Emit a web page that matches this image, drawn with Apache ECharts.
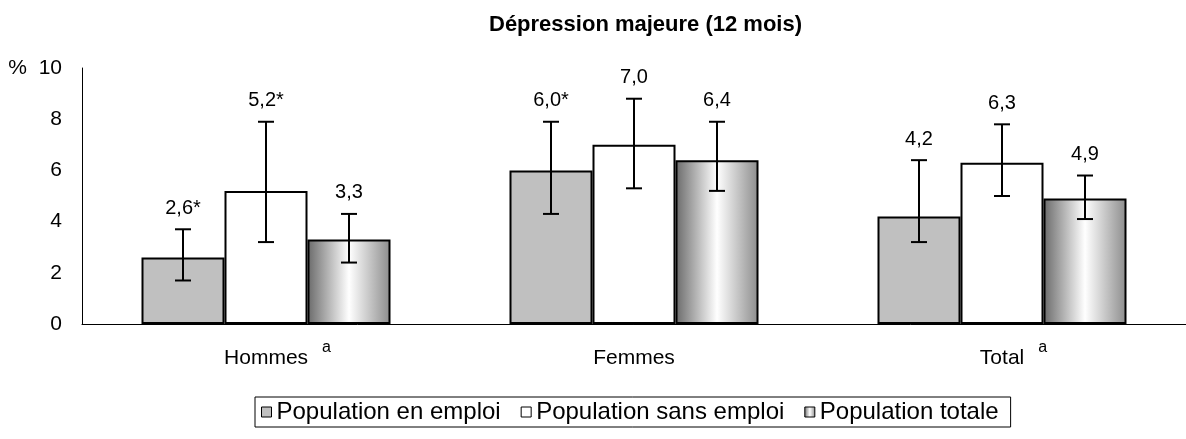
<!DOCTYPE html>
<html>
<head>
<meta charset="utf-8">
<script src="https://cdn.jsdelivr.net/npm/echarts@6/dist/echarts.min.js"></script>
<style>html,body{margin:0;padding:0;background:#fff;}#c{width:1186px;height:439px;}</style>
</head>
<body>
<div id="c"></div>
<script>
const titleText = 'Dépression majeure (12 mois)';
const categories = ['Hommes', 'Femmes', 'Total'];
const footnotes = ['a', '', 'a'];
const seriesNames = ['Population en emploi', 'Population sans emploi', 'Population totale'];
const emploi = [2.6, 6.0, 4.2];
const sansEmploi = [5.2, 7.0, 6.3];
const totale = [3.3, 6.4, 4.9];
const emploiLow = [1.7, 4.3, 3.2];
const emploiHigh = [3.7, 7.9, 6.4];
const sansLow = [3.2, 5.3, 5.0];
const sansHigh = [7.9, 8.8, 7.8];
const totLow = [2.4, 5.2, 4.1];
const totHigh = [4.3, 7.9, 5.8];
const emploiMark = ['*', '*', ''];
const sansMark = ['*', '', ''];
const totMark = ['', '', ''];
const yMin = 0, yMax = 10, yStep = 2;

const BAR_W = 83;
const FONT = '"Liberation Sans", Arial, sans-serif';

const values = [emploi, sansEmploi, totale];
const lows = [emploiLow, sansLow, totLow];
const highs = [emploiHigh, sansHigh, totHigh];
const marks = [emploiMark, sansMark, totMark];

const grad = new echarts.graphic.LinearGradient(0, 0, 1, 0, [
  {offset: 0, color: '#6a6a6a'},
  {offset: 0.5, color: '#ffffff'},
  {offset: 1, color: '#8c8c8c'}
]);
const fills = ['#c0c0c0', '#ffffff', grad];

const chart = echarts.init(document.getElementById('c'), null, {renderer: 'canvas'});

function fmt(v) { return v.toFixed(1).replace('.', ','); }

const barSeries = seriesNames.map((name, si) => ({
  name: name,
  type: 'bar',
  data: values[si],
  barWidth: BAR_W,
  barGap: '0%',
  itemStyle: {color: fills[si], borderColor: '#000', borderWidth: 2},
  z: 2
}));

const errSeries = seriesNames.map((name, si) => ({
  type: 'custom',
  name: name + '_err',
  coordinateSystem: 'cartesian2d',
  silent: true,
  z: 5,
  data: categories.map((c, i) => [i, lows[si][i], highs[si][i], values[si][i]]),
  encode: {x: 0, y: [1, 2]},
  renderItem: function (params, api) {
    const ci = api.value(0);
    const lo = api.coord([ci, api.value(1)]);
    const hi = api.coord([ci, api.value(2)]);
    const x = lo[0] + (si - 1) * BAR_W;
    const cap = 8;
    const ls = {stroke: '#000', lineWidth: 2};
    return {
      type: 'group',
      children: [
        {type: 'line', shape: {x1: x, y1: lo[1], x2: x, y2: hi[1]}, style: ls},
        {type: 'line', shape: {x1: x - cap, y1: lo[1], x2: x + cap, y2: lo[1]}, style: ls},
        {type: 'line', shape: {x1: x - cap, y1: hi[1], x2: x + cap, y2: hi[1]}, style: ls},
        {type: 'text', style: {
          x: x, y: hi[1] - 21,
          text: fmt(api.value(3)) + marks[si][ci],
          align: 'center', verticalAlign: 'middle',
          fill: '#000', font: '20px ' + FONT
        }}
      ]
    };
  }
}));

chart.setOption({
  animation: false,
  textStyle: {fontFamily: FONT, color: '#000'},
  title: {
    text: titleText,
    left: 484, top: 9,
    textStyle: {fontSize: 22, fontWeight: 'bold', color: '#000', fontFamily: FONT}
  },
  legend: {
    data: seriesNames,
    left: 255, top: 397,
    icon: 'rect',
    itemWidth: 10, itemHeight: 10,
    itemGap: 20,
    padding: [3, 12, 3, 6],
    borderColor: '#000', borderWidth: 1, borderRadius: 0,
    itemStyle: {borderWidth: 1, borderColor: '#000'},
    textStyle: {fontSize: 24, color: '#000', fontFamily: FONT}
  },
  grid: {left: 82, top: 68, width: 1109, height: 256, containLabel: false},
  xAxis: {
    type: 'category',
    data: categories,
    axisLine: {lineStyle: {color: '#000', width: 1}},
    axisTick: {show: false},
    axisLabel: {
      margin: 14,
      interval: 0,
      formatter: function (v, i) {
        const fn = footnotes[i];
        return fn ? '{pad|}{main|' + v + '}{sup|' + fn + '}' : '{main|' + v + '}';
      },
      rich: {
        main: {fontSize: 21, lineHeight: 40, color: '#000', fontFamily: FONT},
        pad: {width: 23, lineHeight: 40},
        sup: {fontSize: 16, lineHeight: 16, verticalAlign: 'top', padding: [2, 0, 0, 14], color: '#000', fontFamily: FONT}
      }
    }
  },
  yAxis: {
    type: 'value',
    min: yMin, max: yMax, interval: yStep,
    splitLine: {show: false},
    axisLine: {show: true, lineStyle: {color: '#000', width: 1}},
    axisTick: {show: false},
    axisLabel: {
      fontSize: 21, color: '#000', margin: 20, fontFamily: FONT,
      formatter: function (v) { return v === yMax ? '%  ' + v : String(v); }
    }
  },
  series: barSeries.concat(errSeries)
});
</script>
</body>
</html>
